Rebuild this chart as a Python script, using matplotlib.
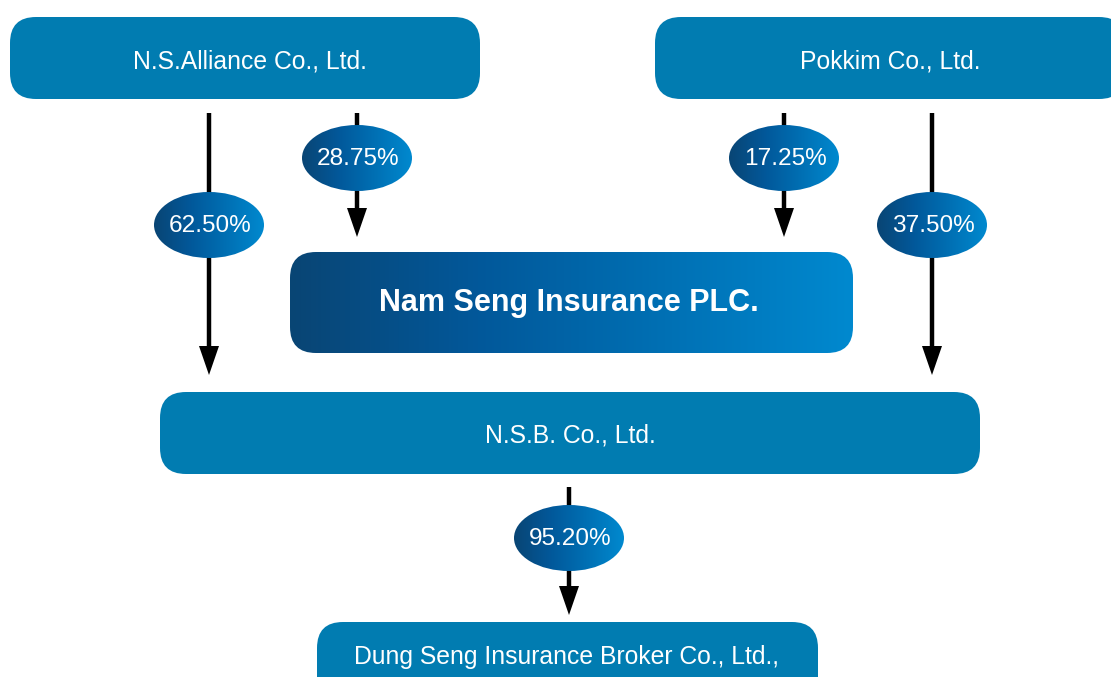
import numpy as np
import matplotlib
matplotlib.use("Agg")
import matplotlib.pyplot as plt
from matplotlib.patches import FancyBboxPatch, Ellipse, Polygon
from matplotlib.colors import LinearSegmentedColormap

plt.rcParams['font.family'] = ['Liberation Sans', 'DejaVu Sans']

# ---- data ----
entities = ["N.S.Alliance Co., Ltd.", "Pokkim Co., Ltd.", "Nam Seng Insurance PLC.",
            "N.S.B. Co., Ltd.", "Dung Seng Insurance Broker Co., Ltd.,"]
# (source, target, share label)
edges = [
    ("N.S.Alliance Co., Ltd.", "N.S.B. Co., Ltd.", "62.50%"),
    ("N.S.Alliance Co., Ltd.", "Nam Seng Insurance PLC.", "28.75%"),
    ("Pokkim Co., Ltd.", "Nam Seng Insurance PLC.", "17.25%"),
    ("Pokkim Co., Ltd.", "N.S.B. Co., Ltd.", "37.50%"),
    ("N.S.B. Co., Ltd.", "Dung Seng Insurance Broker Co., Ltd.,", "95.20%"),
]

# ---- layout (pixels) ----
W, H = 1111, 677
boxes = {
    "N.S.Alliance Co., Ltd.": dict(x0=10, y0=17, x1=480, y1=99, ty=61, tx=250),
    "Pokkim Co., Ltd.": dict(x0=655, y0=17, x1=1125, y1=99, ty=61, tx=890),
    "Nam Seng Insurance PLC.": dict(x0=290, y0=252, x1=853, y1=353, ty=303, tx=569),
    "N.S.B. Co., Ltd.": dict(x0=160, y0=392, x1=980, y1=474, ty=436, tx=570),
    "Dung Seng Insurance Broker Co., Ltd.,": dict(x0=317, y0=622, x1=818, y1=704, ty=657, tx=567),
}
# arrow x, start y, end y, ellipse center y
arrows = [
    (209, 113, 375, 225),
    (357, 113, 237, 158),
    (784, 113, 237, 158),
    (932, 113, 375, 225),
    (569, 487, 615, 538),
]

BOX_COLOR = '#017cb1'
grad_cmap = LinearSegmentedColormap.from_list('g', ['#094574', '#02589a', '#0070b4', '#0089cf'])

fig = plt.figure(figsize=(W / 100, H / 100), dpi=100)
ax = fig.add_axes([0, 0, 1, 1])
ax.set_xlim(0, W)
ax.set_ylim(H, 0)
ax.axis('off')

grad = np.linspace(0, 1, 256).reshape(1, -1)


def gradient_fill(patch, x0, x1, y0, y1, z):
    ax.add_patch(patch)
    im = ax.imshow(grad, extent=[x0, x1, y1, y0], cmap=grad_cmap, aspect='auto',
                   zorder=z, interpolation='bicubic')
    im.set_clip_path(patch)


for name in entities:
    b = boxes[name]
    w, h = b['x1'] - b['x0'], b['y1'] - b['y0']
    tx = b['tx']
    if name == "Nam Seng Insurance PLC.":
        p = FancyBboxPatch((b['x0'], b['y0']), w, h,
                           boxstyle="round,pad=0,rounding_size=26",
                           facecolor='none', edgecolor='none', zorder=2)
        gradient_fill(p, b['x0'], b['x1'], b['y0'], b['y1'], 2)
        ax.text(tx, b['ty'], name, color='white', fontsize=22, fontweight='bold',
                ha='center', va='center', zorder=5)
    else:
        p = FancyBboxPatch((b['x0'], b['y0']), w, h,
                           boxstyle="round,pad=0,rounding_size=26",
                           facecolor=BOX_COLOR, edgecolor='none', zorder=2)
        ax.add_patch(p)
        ax.text(tx, b['ty'], name, color='white', fontsize=17.8,
                ha='center', va='center', zorder=5)

for (src, tgt, label), (x, ys, ye, ey) in zip(edges, arrows):
    ax.plot([x, x], [ys, ye - 26], color='black', lw=3.2, solid_capstyle='butt', zorder=3)
    ax.add_patch(Polygon([(x - 10, ye - 29), (x + 10, ye - 29), (x, ye)],
                         closed=True, facecolor='black', edgecolor='none', zorder=3))
    e = Ellipse((x, ey), 110, 66, facecolor='none', edgecolor='none', zorder=4)
    gradient_fill(e, x - 55, x + 55, ey - 33, ey + 33, 4)
    ax.text(x + 1, ey + 1, label, color='white', fontsize=17.6, ha='center', va='center', zorder=6)

ax.set_xlim(0, W)
ax.set_ylim(H, 0)
fig.savefig('out.png', dpi=100)
